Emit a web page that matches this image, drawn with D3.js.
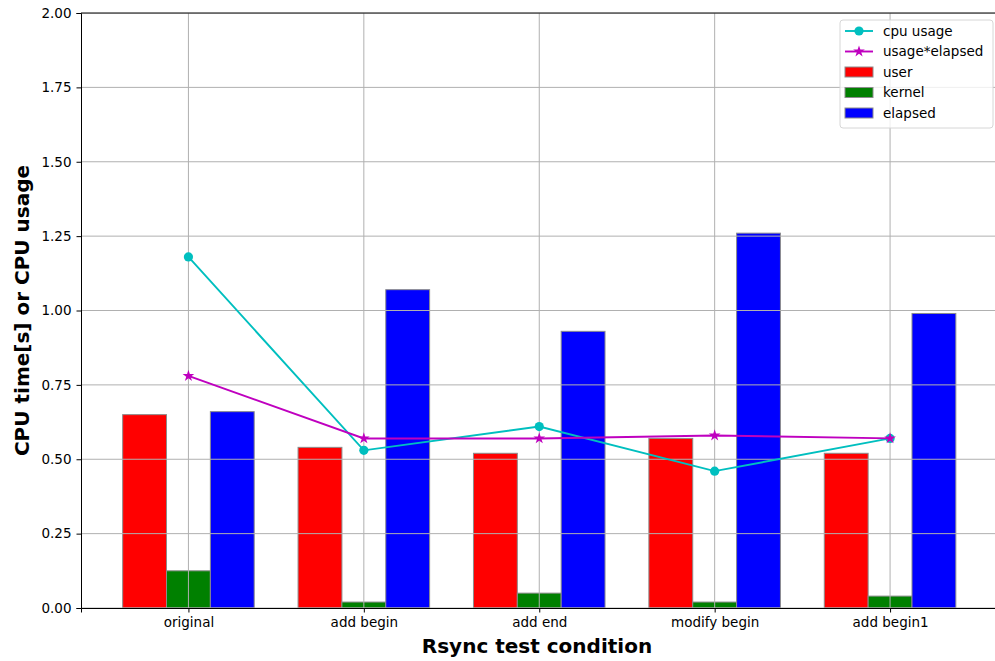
<!DOCTYPE html>
<html>
<head>
<meta charset="utf-8">
<script src="https://cdn.jsdelivr.net/npm/d3@7"></script>
<style>
  body { margin: 0; background: #fff; }
  text { font-family: "DejaVu Sans", sans-serif; }
</style>
</head>
<body>
<div id="chart"></div>
<script>
// Data
const conditions = ["original", "add begin", "add end", "modify begin", "add begin1"];
const userTime = [0.65, 0.54, 0.52, 0.57, 0.52];
const kernelTime = [0.125, 0.02, 0.05, 0.02, 0.04];
const elapsedTime = [0.66, 1.07, 0.93, 1.26, 0.99];
const cpuUsage = [1.18, 0.53, 0.61, 0.46, 0.57];
const usageElapsed = [0.78, 0.57, 0.57, 0.58, 0.57];
const yTicks = [0, 0.25, 0.5, 0.75, 1.0, 1.25, 1.5, 1.75, 2.0];

const width = 995, height = 661;
const plotLeft = 81, plotRight = 997.5, plotTop = 13, plotBottom = 608;

const svg = d3.select("#chart").append("svg")
    .attr("width", width)
    .attr("height", height);

// linear x like matplotlib: index positions, margins 0.05
const barW = 0.25;
const x = d3.scaleLinear().domain([-0.6125, 4.6125]).range([plotLeft, plotRight]);
const y = d3.scaleLinear().domain([0, 2]).range([plotBottom, plotTop]);

svg.append("clipPath").attr("id", "clip")
    .append("rect").attr("x", plotLeft).attr("y", plotTop)
    .attr("width", plotRight - plotLeft).attr("height", plotBottom - plotTop);

const plot = svg.append("g");

// bars
const barSeries = [
  { name: "user", values: userTime, color: "#ff0000", offset: -barW },
  { name: "kernel", values: kernelTime, color: "#008000", offset: 0 },
  { name: "elapsed", values: elapsedTime, color: "#0000ff", offset: barW }
];

barSeries.forEach(s => {
  plot.selectAll(null)
    .data(s.values)
    .join("rect")
    .attr("x", (d, i) => x(i + s.offset - barW / 2))
    .attr("width", x(barW) - x(0))
    .attr("y", d => y(d))
    .attr("height", d => y(0) - y(d))
    .attr("fill", s.color)
    .attr("stroke", "#8c8c8c")
    .attr("stroke-width", 1);
});

// grid (above bars, below lines)
const grid = svg.append("g").attr("clip-path", "url(#clip)");
grid.selectAll(null).data(yTicks).join("line")
  .attr("x1", plotLeft).attr("x2", plotRight)
  .attr("y1", d => y(d)).attr("y2", d => y(d))
  .attr("stroke", "#b0b0b0").attr("stroke-width", 1);
grid.selectAll(null).data(conditions).join("line")
  .attr("x1", (d, i) => x(i)).attr("x2", (d, i) => x(i))
  .attr("y1", plotTop).attr("y2", plotBottom)
  .attr("stroke", "#b0b0b0").attr("stroke-width", 1);

// lines
const line = d3.line().x((d, i) => x(i)).y(d => y(d));
svg.append("path").datum(cpuUsage)
  .attr("d", line).attr("fill", "none")
  .attr("stroke", "#00bfbf").attr("stroke-width", 1.9);
svg.selectAll(null).data(cpuUsage).join("circle")
  .attr("cx", (d, i) => x(i)).attr("cy", d => y(d))
  .attr("r", 4.6).attr("fill", "#00bfbf");

svg.append("path").datum(usageElapsed)
  .attr("d", line).attr("fill", "none")
  .attr("stroke", "#bf00bf").attr("stroke-width", 1.9);
const star = d3.symbol().type(d3.symbolStar).size(42);
svg.selectAll(null).data(usageElapsed).join("path")
  .attr("d", star)
  .attr("transform", (d, i) => `translate(${x(i)},${y(d)})`)
  .attr("fill", "#bf00bf");

// axes
const yAxis = svg.append("g")
  .attr("transform", `translate(${plotLeft},0)`)
  .call(d3.axisLeft(y).tickValues(yTicks).tickFormat(d3.format(".2f")).tickSizeOuter(0).tickSize(4.5).tickPadding(5));
const xAxis = svg.append("g")
  .attr("transform", `translate(0,${plotBottom})`)
  .call(d3.axisBottom(x).tickValues(d3.range(conditions.length)).tickFormat(i => conditions[i]).tickSizeOuter(0).tickSize(4.5).tickPadding(5));
[xAxis, yAxis].forEach(a => {
  a.selectAll("text").attr("font-size", "13.5px").attr("fill", "#000").attr("font-family", "DejaVu Sans");
  a.select(".domain").attr("stroke", "#000").attr("stroke-width", 1);
  a.selectAll(".tick line").attr("stroke", "#000");
});
// top spine
svg.append("line").attr("x1", plotLeft).attr("x2", plotRight).attr("y1", plotTop).attr("y2", plotTop)
  .attr("stroke", "#000").attr("stroke-width", 1);

// axis titles
svg.append("text")
  .attr("x", (plotLeft + width) / 2 - 1).attr("y", 653)
  .attr("text-anchor", "middle")
  .attr("font-size", "20px").attr("font-weight", "bold")
  .text("Rsync test condition");
svg.append("text")
  .attr("transform", `translate(29,${(plotTop + plotBottom) / 2}) rotate(-90)`)
  .attr("text-anchor", "middle")
  .attr("font-size", "20px").attr("font-weight", "bold")
  .text("CPU time[s] or CPU usage");

// legend
const legend = svg.append("g").attr("transform", "translate(840,20)");
legend.append("rect")
  .attr("width", 153).attr("height", 108).attr("rx", 3)
  .attr("fill", "#fff").attr("fill-opacity", 0.8)
  .attr("stroke", "#d6d6d6");
const legendItems = [
  { label: "cpu usage", type: "circle", color: "#00bfbf" },
  { label: "usage*elapsed", type: "star", color: "#bf00bf" },
  { label: "user", type: "bar", color: "#ff0000" },
  { label: "kernel", type: "bar", color: "#008000" },
  { label: "elapsed", type: "bar", color: "#0000ff" }
];
legendItems.forEach((it, i) => {
  const g = legend.append("g").attr("transform", `translate(0,${11 + i * 20.5})`);
  if (it.type === "bar") {
    g.append("rect").attr("x", 5).attr("y", -5).attr("width", 28).attr("height", 10)
      .attr("fill", it.color).attr("stroke", "#8c8c8c");
  } else {
    g.append("line").attr("x1", 5).attr("x2", 33).attr("y1", 0).attr("y2", 0)
      .attr("stroke", it.color).attr("stroke-width", 1.9);
    if (it.type === "circle") {
      g.append("circle").attr("cx", 19).attr("cy", 0).attr("r", 4.6).attr("fill", it.color);
    } else {
      g.append("path").attr("d", star).attr("transform", "translate(19,0)").attr("fill", it.color);
    }
  }
  g.append("text").attr("x", 43).attr("y", 0).attr("dy", "0.35em")
    .attr("font-size", "13.5px").text(it.label);
});
</script>
</body>
</html>
